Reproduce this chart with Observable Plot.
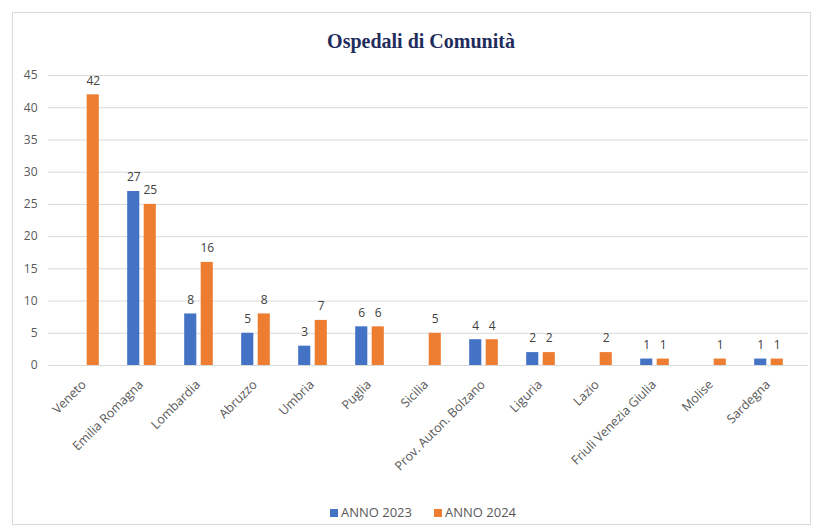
<!DOCTYPE html>
<html>
<head>
<meta charset="utf-8">
<script src="https://cdn.jsdelivr.net/npm/d3@7"></script>
<script src="https://cdn.jsdelivr.net/npm/@observablehq/plot@0.6"></script>
<style>
  html, body { margin: 0; padding: 0; background: #fff; }
  #wrap { position: relative; width: 820px; height: 530px; overflow: hidden; font-family: "Open Sans", "Liberation Sans", sans-serif; }
  #frame { position: absolute; left: 12px; top: 12px; width: 799px; height: 513px; border: 1px solid #d9d9d9; box-sizing: border-box; }
  #title { position: absolute; left: 0; top: 30px; width: 842px; text-align: center; font-family: "Liberation Serif", "DejaVu Serif", serif; font-weight: bold; font-size: 20px; color: #1f2d5c; }
  #chart { position: absolute; left: 0; top: 60px; }
  #legend { position: absolute; top: 503px; left: 0; width: 846px; text-align: center; font-size: 13px; color: #595959; }
  #legend span.item { margin: 0 11px; }
  #legend span.sw { display: inline-block; width: 8px; height: 8px; margin-right: 3px; vertical-align: 0px; }
</style>
</head>
<body>
<div id="wrap">
  <div id="frame"></div>
  <div id="title">Ospedali di Comunità</div>
  <div id="chart"></div>
  <div id="legend"></div>
</div>
<script>
const regions = ["Veneto", "Emilia Romagna", "Lombardia", "Abruzzo", "Umbria", "Puglia", "Sicilia", "Prov. Auton. Bolzano", "Liguria", "Lazio", "Friuli Venezia Giulia", "Molise", "Sardegna"];
const anno2023 = [null, 27, 8, 5, 3, 6, null, 4, 2, null, 1, null, 1];
const anno2024 = [42, 25, 16, 8, 7, 6, 5, 4, 2, 2, 1, 1, 1];
const seriesNames = ["ANNO 2023", "ANNO 2024"];
const seriesColors = ["#4472c4", "#ed7d31"];
const yTicks = [0, 5, 10, 15, 20, 25, 30, 35, 40, 45];

const d23 = regions.map((r, i) => ({region: r, value: anno2023[i]})).filter(d => d.value != null);
const d24 = regions.map((r, i) => ({region: r, value: anno2024[i]})).filter(d => d.value != null);

const x0 = 53, x1 = 799;
const bw = 12.5, gap = 2;
const band = (x1 - x0) / regions.length;
const outer = band / 2 - gap - bw;
const inner = band / 2 + gap;

const chart = Plot.plot({
  width: 820,
  height: 430,
  marginTop: 15,
  marginBottom: 125,
  marginLeft: 48,
  marginRight: 12,
  style: {fontFamily: "'Open Sans', 'Liberation Sans', sans-serif", fontSize: "12px", color: "#595959"},
  x: {domain: regions, range: [x0, x1], padding: 0, label: null},
  y: {domain: [0, 45], ticks: yTicks, label: null},
  marks: [
    Plot.ruleY(yTicks, {stroke: "#d9d9d9", strokeWidth: 1}),
    Plot.axisY({ticks: yTicks, tickSize: 0, tickPadding: 11, label: null, fontSize: 12}),
    Plot.axisX({tickSize: 0, tickPadding: 17, tickRotate: -45, label: null, fontSize: 12.5, dx: -1}),
    Plot.barY(d23, {x: "region", y: "value", fill: seriesColors[0], insetLeft: outer, insetRight: inner}),
    Plot.barY(d24, {x: "region", y: "value", fill: seriesColors[1], insetLeft: inner, insetRight: outer}),
    Plot.text(d23, {x: "region", y: "value", text: d => String(d.value), dx: -(gap + bw / 2), dy: -14, fill: "#404040", fontSize: 12}),
    Plot.text(d24, {x: "region", y: "value", text: d => String(d.value), dx: (gap + bw / 2), dy: -14, fill: "#404040", fontSize: 12})
  ]
});
document.getElementById("chart").appendChild(chart);

const legend = document.getElementById("legend");
seriesNames.forEach((n, i) => {
  const item = document.createElement("span");
  item.className = "item";
  const sw = document.createElement("span");
  sw.className = "sw";
  sw.style.background = seriesColors[i];
  item.appendChild(sw);
  item.appendChild(document.createTextNode(n));
  legend.appendChild(item);
});
</script>
</body>
</html>
